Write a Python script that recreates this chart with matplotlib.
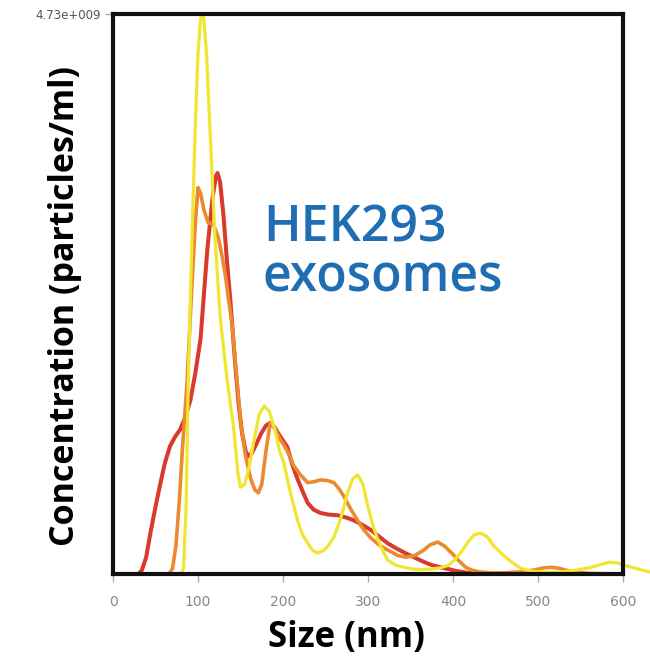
"""Nanoparticle tracking size distribution of HEK293 exosomes (three runs)."""

import matplotlib

matplotlib.use("Agg")
import matplotlib.pyplot as plt

# y axis maximum (particles/ml)
y_max = 4.73e9

# run 1 (yellow): size (nm) and concentration as fraction of y_max
yellow_size = [0, 80, 83, 86, 88.5, 92, 96.8, 100, 103, 105, 107, 110, 114.5,
               120, 126, 134, 142, 147, 150, 155, 160, 166, 172, 178, 184,
               190, 196, 201, 208, 217, 223, 229, 235, 241, 248, 254, 260,
               268, 276, 282, 288, 294, 300, 306, 312, 318, 323, 332, 342,
               352, 362, 375, 385, 394, 402, 410, 418, 425, 432, 440, 448,
               458, 470, 480, 490, 500, 515, 530, 545, 560, 572, 583, 593,
               603, 615, 630, 640]
yellow_frac = [0, 0, 0.01, 0.12, 0.34, 0.55, 0.80, 0.93, 0.99, 1.0, 0.99,
               0.93, 0.78, 0.60, 0.46, 0.35, 0.26, 0.18, 0.155, 0.16, 0.19,
               0.24, 0.285, 0.30, 0.29, 0.26, 0.22, 0.198, 0.15, 0.096, 0.07,
               0.055, 0.042, 0.0375, 0.042, 0.052, 0.066, 0.10, 0.145, 0.17,
               0.177, 0.16, 0.12, 0.085, 0.06, 0.04, 0.025, 0.016, 0.012,
               0.009, 0.008, 0.009, 0.011, 0.015, 0.025, 0.04, 0.058, 0.07,
               0.073, 0.067, 0.05, 0.035, 0.02, 0.01, 0.006, 0.004, 0.003,
               0.004, 0.007, 0.011, 0.016, 0.021, 0.02, 0.015, 0.01, 0.004,
               0.002]

# run 2 (orange)
orange_size = [0, 66, 70, 74, 78, 81.5, 87, 93, 97, 100, 103, 107, 112, 118,
               124, 128, 132, 136, 140.5, 145, 150, 156, 162, 167, 171, 175,
               180, 185, 190, 197, 205, 212, 220, 229, 237, 244, 252, 260,
               266, 272, 280, 288, 295, 303, 312, 323, 335, 345, 355, 365,
               373, 382, 390, 400, 408, 415, 422, 430, 445, 460, 480, 495,
               507, 516, 525, 535, 548, 560, 600]
orange_frac = [0, 0, 0.01, 0.05, 0.13, 0.22, 0.34, 0.52, 0.63, 0.69, 0.68,
               0.65, 0.627, 0.625, 0.60, 0.57, 0.535, 0.49, 0.44, 0.36, 0.275,
               0.21, 0.17, 0.15, 0.145, 0.16, 0.22, 0.27, 0.26, 0.24, 0.22,
               0.195, 0.178, 0.163, 0.165, 0.168, 0.167, 0.163, 0.152, 0.1375,
               0.115, 0.095, 0.079, 0.065, 0.053, 0.043, 0.033, 0.03, 0.033,
               0.042, 0.052, 0.057, 0.05, 0.035, 0.022, 0.012, 0.007, 0.004,
               0.002, 0.002, 0.004, 0.007, 0.011, 0.012, 0.01, 0.006, 0.003,
               0.001, 0]

# run 3 (red)
red_size = [0, 30, 34, 39, 44, 50, 55.5, 61, 67, 73, 79, 85, 91, 97, 103,
            107, 111, 117, 121, 123, 126, 130, 134, 138, 144, 148, 152, 156,
            159, 163, 168, 174, 180, 185, 190, 197, 205, 211, 217, 223, 229,
            236, 244, 254, 264, 274, 283, 293, 303, 313, 323, 333, 343, 354,
            365, 375, 385, 394, 405, 418, 430, 450, 600]
red_frac = [0, 0, 0.007, 0.03, 0.073, 0.12, 0.16, 0.198, 0.228, 0.245, 0.258,
            0.28, 0.31, 0.36, 0.42, 0.5, 0.58, 0.67, 0.71, 0.716, 0.70, 0.64,
            0.56, 0.49, 0.37, 0.30, 0.25, 0.22, 0.21, 0.215, 0.23, 0.25,
            0.265, 0.27, 0.262, 0.245, 0.227, 0.195, 0.17, 0.148, 0.127,
            0.115, 0.109, 0.106, 0.105, 0.101, 0.096, 0.088, 0.079, 0.067,
            0.055, 0.046, 0.038, 0.03, 0.022, 0.016, 0.012, 0.009, 0.005,
            0.002, 0.001, 0, 0]

x_ticks = [0, 100, 200, 300, 400, 500, 600]

fig = plt.figure(figsize=(6.5, 6.58), dpi=100)
ax = fig.add_axes([113 / 650, 84 / 658, 510 / 650, 560 / 658])

ax.plot(red_size, [f * y_max for f in red_frac], color="#d93a2b", lw=2.9,
        solid_capstyle="round", solid_joinstyle="round")
ax.plot(orange_size, [f * y_max for f in orange_frac], color="#ec8a2e",
        lw=2.6, solid_capstyle="round", solid_joinstyle="round")
ax.plot(yellow_size, [f * y_max for f in yellow_frac], color="#f0e630",
        lw=2.3, solid_capstyle="round", solid_joinstyle="round",
        clip_on=False)

ax.set_xlim(0, 600)
ax.set_ylim(0, y_max)

for side in ["left", "right", "top", "bottom"]:
    ax.spines[side].set_linewidth(3)
    ax.spines[side].set_color("#111111")

ax.set_xticks(x_ticks)
ax.set_xticklabels([str(t) for t in x_ticks], family="DejaVu Sans",
                   fontsize=10, color="#888888")
ax.set_yticks([y_max])
ax.set_yticklabels(["4.73e+009"], family="DejaVu Sans", fontsize=8.5,
                   color="#555555")
ax.tick_params(axis="both", direction="out", length=6, width=1,
               color="#aaaaaa", pad=9)
ax.tick_params(axis="y", pad=3)

ax.text(0.294, 0.593, "HEK293", transform=ax.transAxes, family="Open Sans",
        fontweight="semibold", fontsize=36, color="#1f6eb4", va="baseline")
ax.text(0.294, 0.505, "exosomes", transform=ax.transAxes, family="Open Sans",
        fontweight="semibold", fontsize=36, color="#1f6eb4", va="baseline")

fig.text(346 / 650, 11 / 658, "Size (nm)", family="Open Sans",
         fontweight="bold", fontsize=25, ha="center", va="baseline")
fig.text(65 / 650, 1 - 306 / 658, "Concentration (particles/ml)",
         family="Open Sans", fontweight="bold", fontsize=24.5,
         rotation=90, ha="center", va="center")

fig.savefig("out.png", dpi=100)
